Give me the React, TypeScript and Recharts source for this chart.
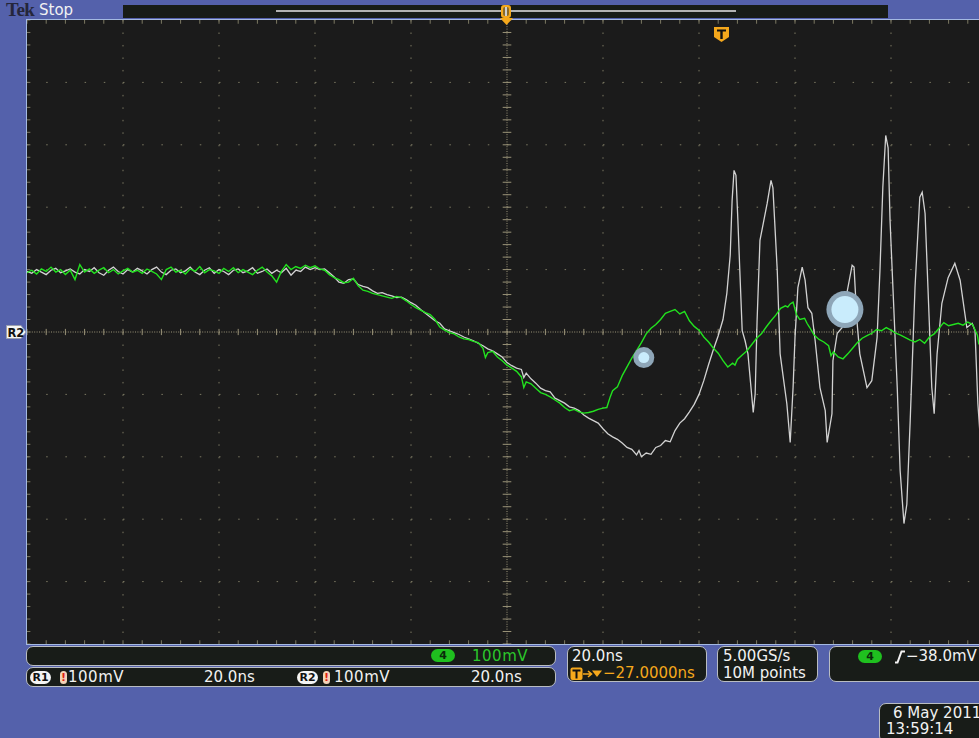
import React from 'react';
import {
  LineChart,
  Line,
  XAxis,
  YAxis,
  CartesianGrid,
  ReferenceLine,
  ReferenceDot,
} from 'recharts';

// screen colours
const BLUE = '#5461ab';
const PANEL_BG = '#181c18';
const GRID = '#7c7963';
const CENTER = '#9a9378';
const GREEN = '#22e21f';
const REF_WHITE = '#d2d2d2';
const ORANGE = '#f5a81c';

// horizontal: 20 ns/div, 10 divs, trigger-relative time in ns
const T_DOMAIN: [number, number] = [-100, 100];
// vertical: 100 mV/div, 10 divs
const MV_DOMAIN: [number, number] = [-500, 500];
const T_MAJOR = [-80, -60, -40, -20, 20, 40, 60, 80];
const MV_MAJOR = [-400, -300, -200, -100, 100, 200, 300, 400];
const T_MINOR = Array.from({ length: 51 }, (_, i) => -100 + i * 4);
const MV_MINOR = Array.from({ length: 51 }, (_, i) => -500 + i * 20);

// flat stretch before the edge, one sample per ns starting at -100 ns
const FLAT_START_NS = -100;
const CH4_FLAT_MV = [
  95, 99, 93, 101, 97, 104, 96, 100, 92, 99,
  84, 108, 96, 101, 94, 99, 103, 95, 100, 93,
  98, 102, 96, 99, 94, 101, 97, 93, 84, 100,
  104, 96, 99, 93, 101, 97, 105, 95, 100, 98,
  94, 102, 97, 103, 95, 100, 96, 92, 99, 104,
  96, 90, 80, 97, 108,
];
const REF_FLAT_MV = [
  97, 94, 100, 96, 92, 99, 102, 95, 98, 101,
  96, 93, 100, 97, 103, 95, 91, 99, 104, 97,
  93, 100, 96, 102, 98, 93, 100, 104, 96, 92,
  99, 101, 95, 98, 104, 96, 92, 99, 103, 94,
  100, 97, 92, 99, 101, 95, 98, 103, 94, 97,
  101, 94, 99, 95, 102,
];

// channel 4 (green) from the falling edge on: [ns, mV]
const CH4_EDGE: [number, number][] = [
  [-45, 100], [-44, 105], [-43, 102], [-42, 107], [-41, 103], [-40, 106], [-39, 101], [-38, 99],
  [-37, 92], [-36, 87], [-35, 84], [-34, 79], [-33, 80], [-32, 86], [-31, 74], [-30, 67],
  [-29, 65], [-28, 62], [-27, 60], [-26, 58], [-25, 56], [-24, 54], [-23, 57], [-22, 55],
  [-21, 50], [-20, 44], [-19, 39], [-18, 35], [-17, 31], [-16, 28], [-15, 20], [-14, 8],
  [-13, 3], [-12, -1], [-11, -3], [-10, -8], [-9, -11], [-8, -12], [-7, -15], [-6, -17],
  [-5, -26], [-4.5, -41], [-4, -33], [-3, -31], [-2, -40], [-1, -46], [0, -53], [1, -58],
  [2, -63], [3, -72], [3.5, -89], [4, -80], [5, -83], [6, -90], [7, -97], [8, -100],
  [9, -104], [10, -109], [11, -114], [12, -121], [13, -126], [14, -124], [15, -128], [16, -130],
  [17, -129], [18, -127], [19, -124], [20, -122], [20.8, -121], [21.5, -104], [22, -94], [23, -88],
  [24, -70], [25, -56], [26, -42], [27, -30], [28, -17], [29, -3], [30, 6], [31, 12],
  [32, 20], [33, 30], [34, 33], [35, 36], [36, 29], [37, 33], [38, 18], [39, 9],
  [40, 3], [41, -8], [42, -16], [43, -26], [44, -34], [45, -46], [46, -56], [47, -50],
  [47.5, -53], [48, -44], [49, -37], [50, -30], [51, -20], [52, -10], [53, -3], [54, 8],
  [55, 18], [56, 27], [57, 38], [58, 42], [58.5, 40], [59, 45], [59.6, 48], [60.3, 28],
  [61, 20], [62, 22], [62.5, 14], [63, 8], [64, -5], [65, -12], [66, -16], [67, -22],
  [67.5, -38], [68, -32], [69, -40], [70, -43], [71, -35], [72, -26], [73, -17], [74, -10],
  [75, -6], [76, -2], [77, 4], [78, 2], [79, 7], [80, 3], [81, -2], [82, -5],
  [83, -9], [84, -13], [85, -16], [86, -12], [87, -18], [88, -8], [89, -3], [90, 6],
  [91, 15], [92, 10], [93, 12], [94, 14], [95, 11], [96, 16], [97, 12], [98, -5], [98.3, -20],
];

// reference R2 (white) from the falling edge on: [ns, mV]
const REF_EDGE: [number, number][] = [
  [-45, 91], [-44, 99], [-43, 97], [-42, 104], [-41, 100], [-40, 103], [-39, 100], [-38, 101],
  [-37, 95], [-36, 88], [-35, 80], [-34, 78], [-33, 84], [-32, 85], [-31, 76], [-30, 73],
  [-29, 71], [-28, 66], [-27, 62], [-26, 63], [-25, 60], [-24, 58], [-23, 55], [-22, 56],
  [-21, 52], [-20, 47], [-19, 43], [-18, 36], [-17, 30], [-16, 24], [-15, 18], [-14, 14],
  [-13, 5], [-12, 2], [-11, -1], [-10, -4], [-9, -8], [-8, -11], [-7, -14], [-6, -18],
  [-5, -22], [-4, -27], [-3, -30], [-2, -35], [-1, -40], [0, -49], [1, -54], [2, -58],
  [3, -60], [3.5, -73], [4, -66], [5, -75], [6, -82], [7, -90], [8, -94], [9, -96],
  [10, -106], [11, -110], [12, -114], [13, -120], [14, -122], [15, -126], [16, -133], [17, -138],
  [18, -142], [19, -146], [20, -155], [21, -163], [22, -168], [23, -172], [24, -178], [25, -185],
  [26, -188], [27, -197], [27.5, -190], [28, -200], [29, -194], [30, -196], [31, -185], [32, -182],
  [33, -174], [34, -176], [35, -158], [36, -146], [37, -139], [38, -128], [39, -116], [40, -100],
  [41, -78], [42, -52], [43, -28], [44, -6], [45, 20], [45.8, 62], [46.5, 123], [46.9, 211],
  [47.3, 259], [47.7, 251], [48.1, 179], [48.5, 99], [49, 2], [49.6, -14], [50.2, -35], [51.3, -129],
  [51.7, -99], [52.1, 18], [52.7, 147], [54.2, 206], [55, 243], [55.4, 231], [56.3, 99], [56.9, -35],
  [58.3, -115], [59, -177], [59.6, -89], [60, -9], [60.6, 71], [61.5, 104], [62.1, 83], [62.7, 39],
  [63.5, 30], [64.2, -14], [65.2, -89], [66.3, -126], [66.7, -177], [67.7, -131], [67.9, -46], [68.8, -2],
  [69.8, 7], [70.8, 62], [71.9, 107], [72.3, 104], [72.9, 18], [73.5, -35], [75, -89], [76, -78],
  [77.1, -9], [77.7, 99], [78.3, 232], [78.9, 315], [79.4, 295], [79.8, 179], [80.4, 71], [81.3, -89],
  [81.9, -222], [82.7, -307], [83.3, -276], [84, -142], [85, 71], [86, 216], [86.5, 224], [87.1, 190],
  [87.7, 71], [88.5, -89], [89, -131], [89.6, -35], [90.6, 46], [91.9, 87], [93.3, 110], [94.4, 83],
  [95.8, 7], [96.9, 14], [97.5, 2], [98.1, -115], [98.6, -170],
];

// touch cursors on screen: [ns, mV]
const SMALL_CURSOR: [number, number] = [28.5, -41];
const BIG_CURSOR: [number, number] = [70.4, 36];

const buildTrace = (flat: number[], edge: [number, number][]) => [
  ...flat.map((mv, i) => ({ t: FLAT_START_NS + i, mv })),
  ...edge.map(([t, mv]) => ({ t, mv })),
];

const txt = (left: number, top: number, color = '#f2f2f2'): React.CSSProperties => ({
  position: 'absolute',
  left,
  top,
  color,
  fontSize: 15,
  lineHeight: '16px',
  whiteSpace: 'nowrap',
});

const panel = (left: number, top: number, width: number, height: number): React.CSSProperties => ({
  position: 'absolute',
  left,
  top,
  width,
  height,
  boxSizing: 'border-box',
  background: PANEL_BG,
  border: '1px solid #b9bdc2',
  borderRadius: 7,
});

const Badge = ({ left, top, label, bg, color, width = 21 }: any) => (
  <div
    style={{
      position: 'absolute',
      left,
      top,
      width,
      height: 13,
      borderRadius: 7,
      background: bg,
      color,
      fontSize: 11,
      fontWeight: 'bold',
      lineHeight: '13px',
      textAlign: 'center',
    }}
  >
    {label}
  </div>
);

const Bang = ({ left, top }: { left: number; top: number }) => (
  <div
    style={{
      position: 'absolute',
      left,
      top,
      width: 7,
      height: 13,
      borderRadius: 4,
      background: '#f3d2b8',
      color: '#e02010',
      fontSize: 11,
      fontWeight: 'bold',
      lineHeight: '13px',
      textAlign: 'center',
    }}
  >
    !
  </div>
);

const Cursor = (outer: number, inner: number) => (p: any) => (
  <g>
    <circle cx={p.cx} cy={p.cy} r={outer} fill="#8ea6b8" />
    <circle cx={p.cx} cy={p.cy} r={inner} fill="#c9ecfc" />
  </g>
);

export default function App() {
  const ch4 = buildTrace(CH4_FLAT_MV, CH4_EDGE);
  const ref = buildTrace(REF_FLAT_MV, REF_EDGE);

  return (
    <div
      style={{
        position: 'absolute',
        left: 0,
        top: 0,
        width: 979,
        height: 738,
        overflow: 'hidden',
        background: BLUE,
        fontFamily: '"DejaVu Sans", sans-serif',
      }}
    >
      {/* graticule + traces */}
      <div
        style={{
          position: 'absolute',
          left: 26,
          top: 19,
          width: 960,
          height: 624,
          border: '1px solid #a4b9e2',
          background: '#1b1b1b',
        }}
      >
        <LineChart width={960} height={624} margin={{ top: 0, right: 0, bottom: 0, left: 0 }}>
          <XAxis type="number" dataKey="t" domain={T_DOMAIN} hide allowDataOverflow />
          <YAxis type="number" dataKey="mv" domain={MV_DOMAIN} hide allowDataOverflow />
          <CartesianGrid
            vertical={false}
            horizontalValues={MV_MAJOR}
            stroke={GRID}
            strokeDasharray="1.5 17.7"
          />
          <CartesianGrid
            horizontal={false}
            verticalValues={T_MAJOR}
            stroke={GRID}
            strokeDasharray="1.5 10.98"
          />
          <ReferenceLine y={0} stroke={CENTER} strokeDasharray="1 1.4" />
          <ReferenceLine x={0} stroke={CENTER} strokeDasharray="1 1.4" />
          {T_MINOR.map((t) => (
            <ReferenceLine key={'hc' + t} segment={[{ x: t, y: -5 }, { x: t, y: 5 }]} stroke={CENTER} />
          ))}
          {MV_MINOR.map((v) => (
            <ReferenceLine key={'vc' + v} segment={[{ x: -0.9, y: v }, { x: 0.9, y: v }]} stroke={CENTER} />
          ))}
          {T_MINOR.map((t) => (
            <ReferenceLine key={'te' + t} segment={[{ x: t, y: 500 }, { x: t, y: 494 }]} stroke={GRID} />
          ))}
          {T_MINOR.map((t) => (
            <ReferenceLine key={'be' + t} segment={[{ x: t, y: -500 }, { x: t, y: -494 }]} stroke={GRID} />
          ))}
          {MV_MINOR.map((v) => (
            <ReferenceLine key={'le' + v} segment={[{ x: -100, y: v }, { x: -99.3, y: v }]} stroke={GRID} />
          ))}
          <Line
            data={ref}
            dataKey="mv"
            type="linear"
            stroke={REF_WHITE}
            strokeWidth={1.3}
            dot={false}
            isAnimationActive={false}
          />
          <Line
            data={ch4}
            dataKey="mv"
            type="linear"
            stroke={GREEN}
            strokeWidth={1.4}
            dot={false}
            isAnimationActive={false}
          />
          <ReferenceDot x={SMALL_CURSOR[0]} y={SMALL_CURSOR[1]} shape={Cursor(10.5, 5.5)} />
          <ReferenceDot x={BIG_CURSOR[0]} y={BIG_CURSOR[1]} shape={Cursor(18.5, 13.5)} />
        </LineChart>
      </div>

      {/* header */}
      <div
        style={{
          position: 'absolute',
          left: 6,
          top: 0,
          fontFamily: '"Liberation Serif", serif',
          fontWeight: 'bold',
          fontSize: 19,
          lineHeight: '20px',
          color: '#25263a',
          letterSpacing: -0.5,
        }}
      >
        Tek
      </div>
      <div style={{ ...txt(39, 2), fontSize: 15 }}>Stop</div>
      <div style={{ position: 'absolute', left: 123, top: 5, width: 765, height: 13, background: PANEL_BG }} />
      <div style={{ position: 'absolute', left: 276, top: 10, width: 460, height: 2, background: '#b3b3b3' }} />
      <svg style={{ position: 'absolute', left: 499, top: 4 }} width={15} height={23}>
        <rect x={2} y={1} width={10} height={13} rx={3} fill={ORANGE} />
        <rect x={4} y={3} width={6} height={9} rx={2} fill="#8a6a2a" />
        <rect x={6} y={3} width={2} height={9} fill="#cfcfcf" />
        <path d="M1 14 H14 L7.5 21 Z" fill={ORANGE} />
      </svg>
      <svg style={{ position: 'absolute', left: 713, top: 26 }} width={17} height={17}>
        <path d="M1 1 H16 V11 L8.5 16 L1 11 Z" fill={ORANGE} />
        <path d="M4 3.5 H13 V5.5 H9.7 V13 H7.3 V5.5 H4 Z" fill="#111" />
      </svg>

      {/* R2 ground marker */}
      <svg style={{ position: 'absolute', left: 6, top: 325 }} width={21} height={15}>
        <path d="M0.5 0.5 H15 L20 7 L15 13.5 H0.5 Z" fill="#f4f4f4" stroke="#9aa0b0" />
        <text x={1.5} y={11.5} fontSize={11.5} fontWeight="bold" fill="#111" fontFamily="DejaVu Sans">
          R2
        </text>
      </svg>

      {/* readouts */}
      <div style={panel(26, 646, 530, 20)} />
      <Badge left={431} top={649} label="4" bg="#1fc01f" color="#0b2a0b" width={24} />
      <div style={{ ...txt(472, 648, '#2bc62b'), letterSpacing: 0.5 }}>100mV</div>

      <div style={panel(26, 667, 530, 20)} />
      <Badge left={30} top={671} label="R1" bg="#f4f4f4" color="#111" />
      <Bang left={60} top={671} />
      <div style={{ ...txt(68, 669), letterSpacing: 0.5 }}>100mV</div>
      <div style={txt(204, 669)}>20.0ns</div>
      <Badge left={297} top={671} label="R2" bg="#f4f4f4" color="#111" />
      <Bang left={323} top={671} />
      <div style={{ ...txt(334, 669), letterSpacing: 0.5 }}>100mV</div>
      <div style={txt(471, 669)}>20.0ns</div>

      <div style={panel(567, 646, 140, 36)} />
      <div style={txt(572, 648)}>20.0ns</div>
      <svg style={{ position: 'absolute', left: 570, top: 667 }} width={34} height={14}>
        <rect x={0.5} y={0.5} width={12} height={12.5} rx={2} fill={ORANGE} />
        <path d="M2.5 2.5 H10.5 V4.5 H7.5 V11.5 H5.5 V4.5 H2.5 Z" fill="#111" />
        <path d="M13 7 H21 M18 4 L21.5 7 L18 10" stroke={ORANGE} strokeWidth={1.6} fill="none" />
        <path d="M22 3.5 H32 L27 10 Z" fill={ORANGE} />
      </svg>
      <div style={txt(603, 665, ORANGE)}>−27.0000ns</div>

      <div style={panel(717, 646, 101, 36)} />
      <div style={txt(723, 648)}>5.00GS/s</div>
      <div style={txt(723, 665)}>10M points</div>

      <div style={panel(829, 646, 160, 36)} />
      <Badge left={858} top={650} label="4" bg="#1fc01f" color="#0b2a0b" width={24} />
      <svg style={{ position: 'absolute', left: 894, top: 650 }} width={12} height={14}>
        <path d="M1 12.5 H3.5 L7.5 1.5 H11" stroke="#f2f2f2" strokeWidth={2} fill="none" />
      </svg>
      <div style={txt(906, 648)}>−38.0mV</div>

      <div style={panel(879, 703, 110, 40)} />
      <div style={txt(893, 705)}>6 May 2011</div>
      <div style={txt(886, 721)}>13:59:14</div>
    </div>
  );
}
